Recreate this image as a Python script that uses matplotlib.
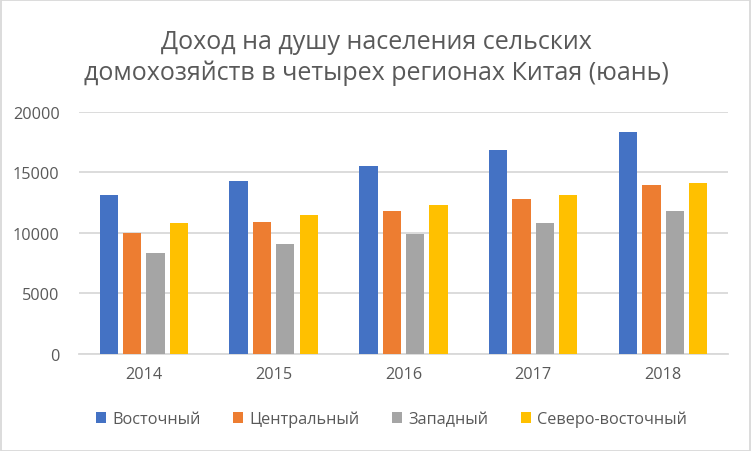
import numpy as np
import matplotlib
matplotlib.use('Agg')
import matplotlib.pyplot as plt
from matplotlib.patches import Rectangle

plt.rcParams['font.family'] = ['Open Sans', 'DejaVu Sans']

# ---------------------------------------------------------------
years = ['2014', '2015', '2016', '2017', '2018']
regions = ['Восточный', 'Центральный', 'Западный', 'Северо-восточный']

east = [13145, 14297, 15498, 16822, 18286]
central = [10011, 10919, 11794, 12806, 13954]
west = [8295, 9093, 9918, 10829, 11831]
northeast = [10802, 11490, 12275, 13116, 14080]

colors = ['#4472C4', '#ED7D31', '#A5A5A5', '#FFC000']
TEXT = '#595959'
GRID = '#D9D9D9'

# ---------------------------------------------------------------
fig = plt.figure(figsize=(7.52, 4.52), dpi=100)
ax = fig.add_axes([0.105, 0.2153, 0.863, 0.5354])

x = np.arange(len(years))
pitch = 0.18
width = 0.141
for i, (vals, name) in enumerate(zip([east, central, west, northeast], regions)):
    ax.bar(x + (i - 1.5) * pitch, vals, width, color=colors[i], label=name, zorder=3)

ax.set_xlim(-0.5, len(years) - 0.5)
ax.set_ylim(0, 20000)
ax.set_yticks(np.arange(0, 20001, 5000))
ax.set_xticks(x)
ax.set_xticklabels(years)
ax.yaxis.grid(True, color=GRID, linewidth=1.3, zorder=0)
for s in ['top', 'right', 'left']:
    ax.spines[s].set_visible(False)
ax.spines['bottom'].set_color(GRID)
ax.spines['bottom'].set_linewidth(1.3)
ax.tick_params(axis='both', length=0, colors=TEXT, labelsize=11.7)
ax.tick_params(axis='y', pad=14)
ax.tick_params(axis='x', pad=9)

fig.text(0.5, 0.872, 'Доход на душу населения сельских\nдомохозяйств в четырех регионах Китая (юань)',
         ha='center', va='center', fontsize=18, color=TEXT, linespacing=1.3)

leg = fig.legend(loc='center', bbox_to_anchor=(0.521, 0.071), ncol=4, frameon=False,
                 handlelength=0.6, handleheight=0.6, handletextpad=0.4,
                 columnspacing=2.0, fontsize=11.7)
for t in leg.get_texts():
    t.set_color(TEXT)

fig.patches.append(Rectangle((0.001, 0.001), 0.997, 0.997, transform=fig.transFigure,
                             fill=False, edgecolor=GRID, linewidth=1.3))

fig.savefig('out.png', dpi=100)
